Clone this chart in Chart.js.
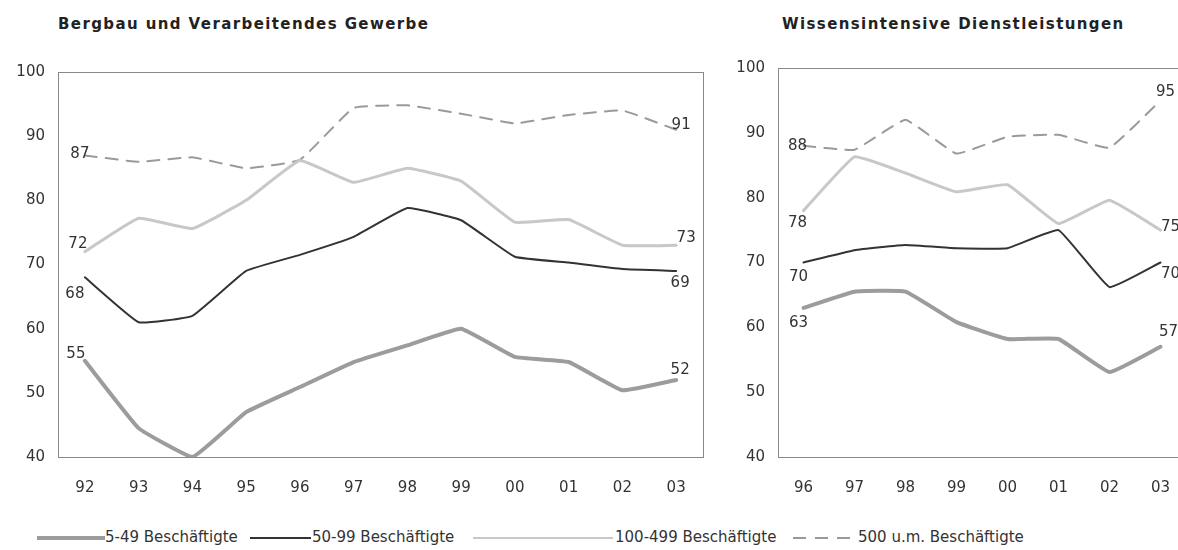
<!DOCTYPE html>
<html>
<head>
<meta charset="utf-8">
<script src="https://cdn.jsdelivr.net/npm/chart.js@4.4.1/dist/chart.umd.min.js"></script>
<style>
  html, body { margin: 0; padding: 0; background: #fff; overflow: hidden; width: 1178px; height: 550px; }
  .title { position: absolute; top: 15px; font: bold 15px "DejaVu Sans", sans-serif; color: #222; letter-spacing: 1.4px; white-space: nowrap; }
  #c1 { position: absolute; left: 0; top: 0; }
  #c2 { position: absolute; left: 720px; top: 0; }
  #legend { position: absolute; top: 528px; left: 0; font: 15px "DejaVu Sans", sans-serif; color: #333; white-space: nowrap; }
  #legend span { position: absolute; top: 0; }
  #legend i { position: absolute; top: 9px; display: block; }
</style>
</head>
<body>
<div class="title" style="left:58px">Bergbau und Verarbeitendes Gewerbe</div>
<div class="title" style="left:782px">Wissensintensive Dienstleistungen</div>
<canvas id="c1" width="715" height="500"></canvas>
<canvas id="c2" width="480" height="500"></canvas>
<div id="legend">
  <i style="left:37px;width:68px;height:4px;top:8px;background:#9c9c9c"></i><span style="left:105px">5-49 Beschäftigte</span>
  <i style="left:250px;width:61px;height:2px;background:#333"></i><span style="left:312px">50-99 Beschäftigte</span>
  <i style="left:473px;width:140px;height:2px;background:#c8c8c8"></i><span style="left:615px">100-499 Beschäftigte</span>
  <i style="left:793px;width:64px;height:2px;background:repeating-linear-gradient(90deg,#999 0 13px,transparent 13px 22px)"></i><span style="left:858px">500 u.m. Beschäftigte</span>
</div>
<script>
// Werte
const yearsLeft = ['92', '93', '94', '95', '96', '97', '98', '99', '00', '01', '02', '03'];
const left5_49 = [55, 44.5, 40, 47, 50.9, 54.8, 57.4, 60, 55.6, 54.8, 50.4, 52];
const left50_99 = [68, 61, 62, 69, 71.5, 74.3, 78.8, 76.9, 71.2, 70.3, 69.3, 69];
const left100_499 = [72, 77.2, 75.6, 80, 86.2, 82.8, 85, 83, 76.6, 77, 73, 73];
const left500 = [87, 86, 86.7, 85, 86.3, 94.4, 94.8, 93.5, 92, 93.3, 94, 91];

const yearsRight = ['96', '97', '98', '99', '00', '01', '02', '03'];
const right5_49 = [63, 65.5, 65.5, 60.8, 58.2, 58.2, 53.1, 57];
const right50_99 = [70, 71.9, 72.7, 72.2, 72.2, 75, 66.2, 70];
const right100_499 = [78, 86.3, 83.8, 80.9, 82, 76, 79.6, 75];
const right500 = [88, 87.4, 92, 86.8, 89.4, 89.7, 87.7, 95];

const yTicks = [40, 50, 60, 70, 80, 90, 100];

// Versatz der Anfangs-/Endbeschriftungen (dx, dy) je Reihe: 5-49, 50-99, 100-499, 500+
const offsLeft = {
    first: [[-9, -7], [-10, 17], [-7, -8], [-5, -1]],
    last: [[4, -10], [4, 12], [10, -7], [5, -5]]
};
const offsRight = {
    first: [[-5, 15], [-5, 15], [-6, 12], [-6, 0]],
    last: [[8, -15], [10, 12], [10, -3], [5, -8]]
};

const tickFont = { family: 'DejaVu Sans', size: 15 };

const boxPlugin = {
    id: 'box',
    beforeDatasetsDraw(chart) {
        const a = chart.chartArea;
        const ctx = chart.ctx;
        ctx.save();
        ctx.strokeStyle = '#888';
        ctx.lineWidth = 1;
        ctx.strokeRect(a.left + 0.5, a.top + 0.5, a.right - a.left, a.bottom - a.top);
        ctx.restore();
    }
};

const endLabels = {
    id: 'endLabels',
    afterDatasetsDraw(chart, args, opts) {
        const ctx = chart.ctx;
        ctx.save();
        ctx.font = '15px "DejaVu Sans"';
        ctx.fillStyle = '#333';
        ctx.textAlign = 'center';
        ctx.textBaseline = 'middle';
        chart.data.datasets.forEach((ds, i) => {
            const pts = chart.getDatasetMeta(i).data;
            const n = ds.data.length - 1;
            const f = opts.offs.first[i], l = opts.offs.last[i];
            ctx.fillText(Math.round(ds.data[0]), pts[0].x + f[0], pts[0].y + f[1]);
            ctx.fillText(Math.round(ds.data[n]), pts[n].x + l[0], pts[n].y + l[1]);
        });
        ctx.restore();
    }
};

function makeChart(id, labels, s1, s2, s3, s4, offs, padTop, padRight) {
    return new Chart(document.getElementById(id), {
        type: 'line',
        data: {
            labels: labels,
            datasets: [
                { label: '5-49 Beschäftigte', data: s1, borderColor: '#9c9c9c', borderWidth: 4 },
                { label: '50-99 Beschäftigte', data: s2, borderColor: '#333', borderWidth: 2 },
                { label: '100-499 Beschäftigte', data: s3, borderColor: '#c8c8c8', borderWidth: 3 },
                { label: '500 u.m. Beschäftigte', data: s4, borderColor: '#9a9a9a', borderWidth: 2, borderDash: [12, 9] }
            ]
        },
        options: {
            responsive: false,
            animation: false,
            devicePixelRatio: 1,
            layout: { padding: { top: padTop, right: padRight, left: 0, bottom: 0 } },
            elements: {
                point: { radius: 0 },
                line: { tension: 0.1, borderJoinStyle: 'round', borderCapStyle: 'round' }
            },
            plugins: {
                legend: { display: false },
                tooltip: { enabled: false },
                endLabels: { offs: offs }
            },
            scales: {
                x: {
                    offset: true,
                    grid: { display: false, drawTicks: false },
                    border: { display: false },
                    ticks: { color: '#333', font: tickFont, padding: 22, maxRotation: 0 },
                    afterFit(s) { s.height = 43; }
                },
                y: {
                    min: 40,
                    max: 100,
                    afterBuildTicks(s) { s.ticks = yTicks.map(v => ({ value: v })); },
                    grid: { display: false, drawTicks: false },
                    border: { display: false },
                    ticks: { color: '#333', font: tickFont, padding: 13 },
                    afterFit(s) { s.width = 58; }
                }
            }
        },
        plugins: [boxPlugin, endLabels]
    });
}

makeChart('c1', yearsLeft, left5_49, left50_99, left100_499, left500, offsLeft, 72, 12);
makeChart('c2', yearsRight, right5_49, right50_99, right100_499, right500, offsRight, 68, 14);
</script>
</body>
</html>
